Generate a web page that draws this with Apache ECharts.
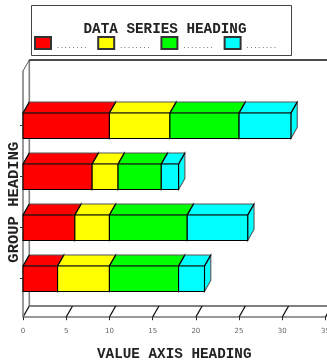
<!DOCTYPE html>
<html><head><meta charset="utf-8">
<style>html,body{margin:0;padding:0;background:#fff;overflow:hidden}#c{width:327px;height:360px}</style>
<script src="https://cdn.jsdelivr.net/npm/echarts@6/dist/echarts.min.js"></script>
</head><body><div id="c"></div>
<script>
const categories = ['Group 1','Group 2','Group 3','Group 4'];
const redValues = [10,8,6,4];
const yellowValues = [7,3,4,6];
const greenValues = [8,5,9,8];
const cyanValues = [6,2,7,3];
const seriesNames = ['Series 1','Series 2','Series 3','Series 4'];
const seriesColors = ['#ff0000','#ffff00','#00ff00','#00ffff'];
const axisTicks = [0,5,10,15,20,25,30,35];
const allValues = [redValues,yellowValues,greenValues,cyanValues];

const DX = 6.3, DY = 11;
const chart = echarts.init(document.getElementById('c'), null, {renderer:'canvas'});

function barItem(color){
  return function(params, api){
    const a = api.coord([api.value(0), api.value(2)]);
    const b = api.coord([api.value(1), api.value(2)]);
    const h = api.size([0,1])[1]*0.5;
    const t = a[1]-h/2, u = a[1]+h/2, l = a[0], r = b[0];
    const st = {fill:color, stroke:'#000', lineWidth:1.1};
    const backStyle = {fill:color, stroke:'#555', lineWidth:1.1};
    return {type:'group', children:[
      {type:'polygon', shape:{points:[[r,t],[r+DX,t-DY],[r+DX,u-DY],[r,u]]}, style:backStyle},
      {type:'polygon', shape:{points:[[l,t],[l+DX,t-DY],[r+DX,t-DY],[r,t]]}, style:backStyle},
      {type:'polygon', shape:{points:[[l,t],[r,t],[r,u],[l,u]]}, style:st},
      {type:'line', shape:{x1:l,y1:t,x2:l+DX,y2:t-DY}, style:{stroke:'#000',lineWidth:1.1}},
      {type:'line', shape:{x1:r,y1:t,x2:r+DX,y2:t-DY}, style:{stroke:'#000',lineWidth:1.1}}
    ]};
  };
}

const barSeries = allValues.map((vals,i)=>({
  name:seriesNames[i], type:'custom', z:5,
  itemStyle:{color:seriesColors[i], borderColor:'#333', borderWidth:0.8},
  encode:{x:[0,1], y:2},
  renderItem:barItem(seriesColors[i]),
  data:vals.map((v,k)=>{
    let s=0; for(let j=0;j<i;j++) s+=allValues[j][k];
    return [s,s+v,k];
  })
}));

const frameTop = 60, axisY = 317;
const frame = {
  type:'custom', z:1, silent:true, encode:{x:0},
  renderItem:function(params, api){
    const x = api.coord([api.value(0),0])[0];
    const kids = [{type:'line', shape:{x1:x,y1:axisY,x2:x+DX,y2:axisY-DY}, style:{stroke:'#111',lineWidth:1.3}}];
    if(params.dataIndex===0){
      const wall = {stroke:'#808080',lineWidth:1.6};
      kids.push(
        {type:'line', shape:{x1:x,y1:frameTop+DY,x2:x,y2:axisY}, style:wall},
        {type:'line', shape:{x1:x+DX,y1:frameTop,x2:x+DX,y2:axisY-DY}, style:wall},
        {type:'line', shape:{x1:x,y1:frameTop+DY,x2:x+DX,y2:frameTop}, style:{stroke:'#555',lineWidth:1}},
        {type:'line', shape:{x1:x+DX,y1:frameTop,x2:340,y2:frameTop}, style:{stroke:'#111',lineWidth:1.3}},
        {type:'line', shape:{x1:x+DX,y1:axisY-DY,x2:340,y2:axisY-DY}, style:{stroke:'#555',lineWidth:1.3}}
      );
    }
    return {type:'group', children:kids};
  },
  data:axisTicks.map(t=>[t])
};

const headFont = {fontFamily:'Liberation Mono', fontWeight:'bold', color:'#222'};
chart.setOption({
  animation:false,
  backgroundColor:'#fff',
  title:{text:'DATA SERIES HEADING', left:160, top:17, textAlign:'center',
    textStyle:Object.assign({fontSize:14.3},headFont)},
  legend:{left:29, top:31, itemWidth:16, itemHeight:12, itemGap:10, selectedMode:false, icon:'rect',
    data:seriesNames, formatter:()=>'\n........',
    textStyle:{fontFamily:'Liberation Mono', fontSize:6.5, lineHeight:6, color:'#555'}},
  graphic:[
    {type:'rect', z:-2, shape:{x:32,y:6,width:260,height:50}, style:{fill:'#ccc'}},
    {type:'rect', z:-1, shape:{x:31.5,y:5.5,width:260,height:50}, style:{fill:'#fff',stroke:'#444',lineWidth:1}}
  ],
  grid:{left:23, right:1.5, top:100.2, bottom:55.8, outerBoundsMode:'none'},
  xAxis:{type:'value', min:0, max:35, interval:5, offset:13,
    name:'VALUE AXIS HEADING', nameLocation:'middle', nameGap:30,
    nameTextStyle:Object.assign({fontSize:14.3},headFont),
    axisLine:{show:true,lineStyle:{color:'#777',width:1.6}},
    axisTick:{show:true,length:3,lineStyle:{color:'#222',width:1}},
    axisLabel:{fontFamily:'DejaVu Sans',fontSize:7,color:'#666',margin:10},
    splitLine:{show:false}},
  yAxis:{type:'category', inverse:true, data:categories,
    name:'GROUP HEADING', nameLocation:'middle', nameGap:1,
    nameTextStyle:Object.assign({fontSize:15.5},headFont),
    axisLine:{show:false},
    axisTick:{show:true,alignWithLabel:true,length:3,lineStyle:{color:'#333',width:1}},
    axisLabel:{show:false}, splitLine:{show:false}},
  series:[frame].concat(barSeries)
});
</script></body></html>
